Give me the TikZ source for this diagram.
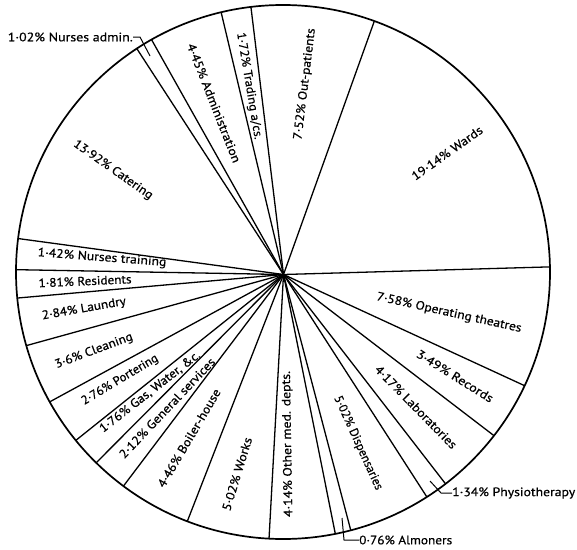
\documentclass[tikz,border=0pt]{standalone}
\usepackage{fontspec}
\setmainfont{PT Sans}
\newfontfamily\lblfont{PT Sans}[FakeBold=0.6]
\usetikzlibrary{calc}
\newcommand{\fitw}[2]{\resizebox{#1pt}{\height}{#2}}
\begin{document}
\begin{tikzpicture}[x=1pt,y=1pt,
  lbl/.style={inner sep=0pt, font=\lblfont\fontsize{12.2}{14}\selectfont},
  spoke/.style={line width=1.3pt},
  rim/.style={line width=1.7pt},
  leader/.style={line width=1pt}]
\useasboundingbox (0,0) rectangle (577,-549);
\coordinate (C) at (283,-272);
\coordinate (O) at (283.5,-274.5);
\draw[rim] (C) circle[radius=267];
\foreach \a [count=\i] in {1.1,70.0,96.9,103.4,119.5,123.2,172.8,179.5,185.6,196.0,209.1,219.1,225.6,233.3,249.0,267.0,281.3,284.7,302.6,307.5,322.2,334.8}{
  \coordinate (b\i) at ($(C)+(\a:267)$);
  \draw[spoke] (O) -- (b\i);
}
% labels
\node[lbl, anchor=east] (na) at (133,-37) {\fitw{125}{1·02\% Nurses admin.}};
\coordinate (na1) at (140,-37);
\coordinate (na2) at (150,-56);
\draw[leader] (na.east) -- (na1) -- (na2);
\node[lbl, rotate=-68.5] (adm) at (214,-103) {\fitw{127}{4·45\% Administration}};
\node[lbl, rotate=-80.5] (trd) at (249,-86) {\fitw{108}{1·72\% Trading a/cs.}};
\node[lbl, rotate=83] (out) at (305,-84) {\fitw{112}{7·52\% Out-patients}};
\node[lbl, rotate=35.5] (wrd) at (447,-153) {\fitw{84}{19·14\% Wards}};
\node[lbl, rotate=-35] (cat) at (113,-170) {\fitw{94}{13·92\% Catering}};
\node[lbl, rotate=-4.4] (ntr) at (102,-258) {\fitw{129}{1·42\% Nurses training}};
\node[lbl, rotate=2.5] (res) at (85,-281) {\fitw{93}{1·81\% Residents}};
\node[lbl, rotate=10] (lau) at (84,-309) {\fitw{85}{2·84\% Laundry}};
\node[lbl, rotate=20.5] (cln) at (94,-351) {\fitw{82}{3·6\% Cleaning}};
\node[lbl, rotate=31] (por) at (120,-380) {\fitw{87}{2·76\% Portering}};
\node[lbl, rotate=38] (gas) at (150,-392) {\fitw{124}{1·76\% Gas, Water, \&c.}};
\node[lbl, rotate=46.5] (gen) at (167,-408) {\fitw{133}{2·12\% General services}};
\node[lbl, rotate=59.5] (boi) at (189,-438) {\fitw{112}{4·46\% Boiler-house}};
\node[lbl, rotate=73] (wrk) at (237,-474) {\fitw{76}{5·02\% Works}};
\node[lbl, rotate=91] (oth) at (288,-444) {\fitw{146}{4·14\% Other med. depts.}};
\node[lbl, rotate=-65.5] (dis) at (358,-443) {\fitw{102}{5·02\% Dispensaries}};
\node[lbl, rotate=-45.5] (lab) at (416,-407) {\fitw{111}{4·17\% Laboratories}};
\node[lbl, rotate=-32] (rec) at (455,-376) {\fitw{88}{3·49\% Records}};
\node[lbl, rotate=-12.5] (opt) at (449,-313) {\fitw{148}{7·58\% Operating theatres}};
\node[lbl, anchor=west] (phy) at (452,-493) {\fitw{123}{1·34\% Physiotherapy}};
\coordinate (ph1) at (430,-481);
\coordinate (ph2) at (441,-493);
\draw[leader] (ph1) -- (ph2) -- (phy.west);
\node[lbl, anchor=west] (alm) at (359,-540) {\fitw{93}{0·76\% Almoners}};
\coordinate (al1) at (342,-518);
\coordinate (al2) at (344,-540);
\draw[leader] (al1) -- (al2) -- (alm.west);
\end{tikzpicture}
\end{document}
